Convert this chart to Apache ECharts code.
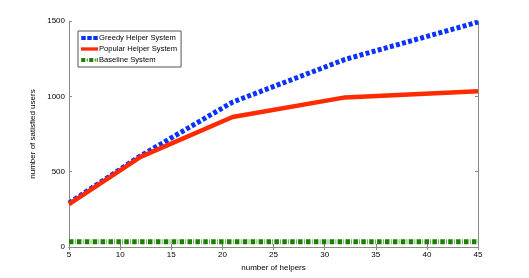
<!DOCTYPE html>
<html><head><meta charset="utf-8">
<script src="https://cdn.jsdelivr.net/npm/echarts@6/dist/echarts.min.js"></script>
<style>html,body{margin:0;padding:0;background:#fff}#c{width:529px;height:278px}</style>
</head><body><div id="c"></div>
<script>
const helpers = [5, 12, 21, 32, 45];
const greedy = [292, 605, 962, 1245, 1493];
const popular = [285, 598, 863, 993, 1033];
const baselineX = [5, 45];
const baseline = [35, 35];
const xTicks = [5, 10, 15, 20, 25, 30, 35, 40, 45];
const yTicks = [0, 500, 1000, 1500];
const seriesNames = ['Greedy Helper System', 'Popular Helper System', 'Baseline System'];

const chart = echarts.init(document.getElementById('c'));
const font = 'Liberation Sans, Arial, sans-serif';
const axCol = '#8a8a8a';
const blue = '#0a32ff', red = '#ff2a00', green = '#1e7d00';
function pairs(xs, ys){ return xs.map((x,i)=>[x, ys[i]]); }
chart.setOption({
  animation: false,
  grid: {left: 69, right: 51, top: 21, bottom: 31},
  legend: {
    orient: 'vertical', left: 78, top: 31,
    backgroundColor: '#fff', borderColor: '#555', borderWidth: 1,
    padding: [3, 4, 3, 3], itemGap: 3, itemWidth: 17, itemHeight: 4,
    textStyle: {fontFamily: font, fontSize: 7.6, color: '#000', padding: [0,0,0,-4]},
    data: [
      {name: seriesNames[0], icon: 'path://M0,0h4.5v4h-4.5z M6,0h4.5v4h-4.5z M12,0h4.5v4h-4.5z'},
      {name: seriesNames[1], icon: 'path://M0,0.4h16.5v3.2h-16.5z'},
      {name: seriesNames[2], icon: 'path://M0,0h4v4h-4z M5.5,0.5h1v3h-1z M8,0h4v4h-4z M13.5,0.5h1v3h-1z M15.5,0h1v4h-1z'}
    ]
  },
  xAxis: [{
    type: 'value', min: 5, max: 45, interval: 5, position: 'bottom',
    name: 'number of helpers', nameLocation: 'middle', nameGap: 14,
    nameTextStyle: {fontFamily: font, fontSize: 8, color: '#000'},
    axisLine: {lineStyle: {color: axCol}},
    axisTick: {inside: true, length: 3, lineStyle: {color: axCol}},
    axisLabel: {fontFamily: font, fontSize: 8, color: '#000', margin: 4,
      formatter: v => xTicks.includes(v) ? String(v) : ''},
    splitLine: {show: false}
  }, {
    type: 'value', min: 5, max: 45, interval: 5, position: 'top',
    axisLine: {lineStyle: {color: axCol}},
    axisTick: {inside: true, length: 3, lineStyle: {color: axCol}},
    axisLabel: {show: false}, splitLine: {show: false}
  }],
  yAxis: [{
    type: 'value', min: 0, max: 1500, interval: 500, position: 'left',
    name: 'number of satisfied users', nameLocation: 'middle', nameGap: 27,
    nameTextStyle: {fontFamily: font, fontSize: 8, color: '#000'},
    axisLine: {show: true, lineStyle: {color: axCol}},
    axisTick: {show: true, inside: true, length: 3, lineStyle: {color: axCol}},
    axisLabel: {fontFamily: font, fontSize: 8, color: '#000', margin: 4,
      formatter: v => yTicks.includes(v) ? String(v) : ''},
    splitLine: {show: false}
  }, {
    type: 'value', min: 0, max: 1500, interval: 500, position: 'right',
    axisLine: {show: true, lineStyle: {color: axCol}},
    axisTick: {show: true, inside: true, length: 3, lineStyle: {color: axCol}},
    axisLabel: {show: false}, splitLine: {show: false}
  }],
  series: [{
    name: seriesNames[0], type: 'line', symbol: 'none',
    data: pairs(helpers, greedy),
    itemStyle: {color: blue},
    lineStyle: {color: blue, width: 5, type: [4, 2.3], cap: 'butt'}
  }, {
    name: seriesNames[1], type: 'line', symbol: 'none',
    data: pairs(helpers, popular),
    itemStyle: {color: red},
    lineStyle: {color: red, width: 4.5, type: 'solid'}
  }, {
    name: seriesNames[2], type: 'line', symbol: 'none',
    data: pairs(baselineX, baseline),
    itemStyle: {color: green},
    lineStyle: {color: green, width: 5, type: [4.5, 1.4, 0.6, 1.4], cap: 'butt'}
  }]
});
</script></body></html>
